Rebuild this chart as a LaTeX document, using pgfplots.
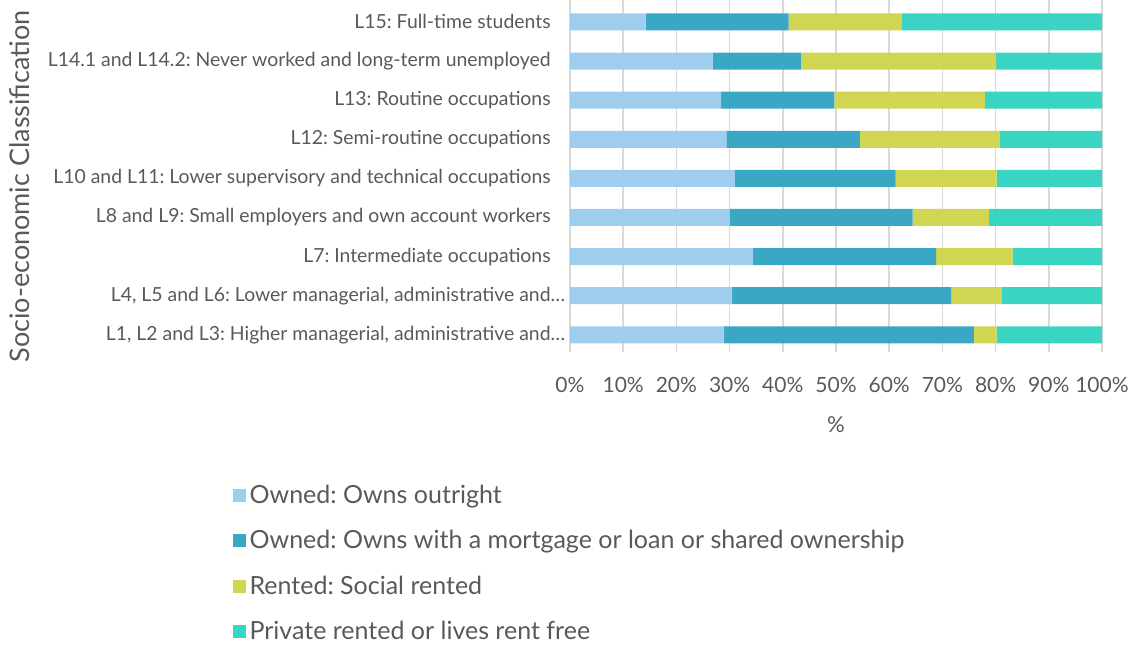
\documentclass[border=0pt]{standalone}
\usepackage{pgfplots}
\pgfplotsset{compat=1.18}
\usepackage{pgfplotstable}
\usepackage{fontspec}
\setmainfont{Lato}
\frenchspacing

\definecolor{txtgray}{HTML}{595959}
\definecolor{gridgray}{HTML}{D9D9D9}
\definecolor{cOutright}{HTML}{9ECDED}
\definecolor{cMortgage}{HTML}{3AA8C4}
\definecolor{cSocial}{HTML}{D0D552}
\definecolor{cPrivate}{HTML}{3AD4C3}

% tenure shares (%) per NS-SeC group, 0 = L1-L3 (bottom) ... 8 = L15 (top)
\pgfplotstableread{
cat outright mortgage social private
0   28.9     47.0     4.3    19.8
1   30.4     41.3     9.5    18.8
2   34.4     34.4     14.4   16.8
3   30.0     34.4     14.4   21.2
4   31.0     30.2     19.0   19.8
5   29.4     25.1     26.2   19.3
6   28.4     21.3     28.3   22.0
7   26.8     16.6     36.7   19.9
8   14.2     26.9     21.3   37.6
}\tenure

\begin{document}
\begin{tikzpicture}
\useasboundingbox (0,0) rectangle (570pt,322pt);
\clip (0,0) rectangle (570pt,322pt);
\begin{axis}[
    at={(285pt,146pt)}, anchor=south west,
    scale only axis,
    width=266pt, height=176pt,
    xbar stacked,
    bar width=8.5pt,
    xmin=0, xmax=100,
    ymin=-0.44, ymax=8.56,
    xtick={0,10,...,100},
    xticklabels={0\%,10\%,20\%,30\%,40\%,50\%,60\%,70\%,80\%,90\%,100\%},
    ytick={0,...,8},
    yticklabels={
        {L1, L2 and L3: Higher managerial, administrative and\rlap{…}},
        {L4, L5 and L6: Lower managerial, administrative and\rlap{…}},
        {L7: Intermediate occupations},
        {L8 and L9: Small employers and own account workers},
        {L10 and L11: Lower supervisory and technical occupations},
        {L12: Semi-routine occupations},
        {L13: Routine occupations},
        {L14.1 and L14.2: Never worked and long-term unemployed},
        {L15: Full-time students}},
    xmajorgrids=true,
    grid style={gridgray, line width=0.75pt},
    axis line style={draw=none},
    tick style={draw=none},
    xticklabel style={font=\fontsize{10.5}{12}\selectfont, text=txtgray, anchor=center, yshift=-16.5pt},
    yticklabel style={font=\fontsize{9.7}{11}\selectfont, text=txtgray, anchor=east, inner sep=0pt, xshift=-9.5pt},
    xlabel={\%},
    xlabel style={font=\fontsize{11}{13}\selectfont, text=txtgray, at={(axis description cs:0.5,0)}, anchor=center, yshift=-36.5pt},
    ylabel={Socio-economic Classification},
    ylabel style={font=\fontsize{13.5}{15}\selectfont, text=txtgray, at={(axis description cs:-1.034,0.47)}, anchor=center},
    legend style={at={(axis description cs:-0.635,-0.365)}, anchor=north west,
        draw=none, fill=none, font=\fontsize{12.5}{14}\selectfont, text=txtgray,
        row sep=8pt, inner sep=0pt},
    legend cell align=left,
    legend image code/.code={\fill[#1] (0pt,-3.25pt) rectangle (6.5pt,3.25pt);},
]
\addplot[fill=cOutright, draw=none] table[x=outright, y=cat] {\tenure};
\addlegendentry{Owned: Owns outright}
\addplot[fill=cMortgage, draw=none] table[x=mortgage, y=cat] {\tenure};
\addlegendentry{Owned: Owns with a mortgage or loan or shared ownership}
\addplot[fill=cSocial, draw=none] table[x=social, y=cat] {\tenure};
\addlegendentry{Rented: Social rented}
\addplot[fill=cPrivate, draw=none] table[x=private, y=cat] {\tenure};
\addlegendentry{Private rented or lives rent free}
\end{axis}
\end{tikzpicture}
\end{document}
